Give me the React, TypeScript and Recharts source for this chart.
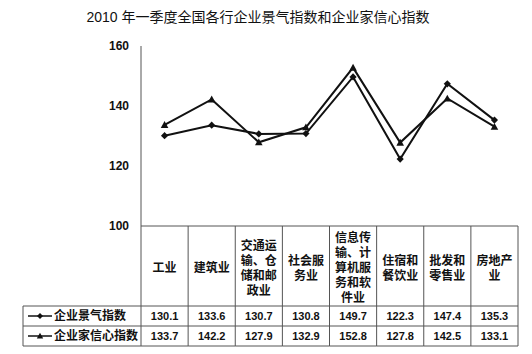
import React from "react";
import { LineChart, Line, XAxis, YAxis, Customized } from "recharts";

const categories = [
  "工业",
  "建筑业",
  "交通运输、仓储和邮政业",
  "社会服务业",
  "信息传输、计算机服务和软件业",
  "住宿和餐饮业",
  "批发和零售业",
  "房地产业",
];
const prosperity = [130.1, 133.6, 130.7, 130.8, 149.7, 122.3, 147.4, 135.3];
const confidence = [133.7, 142.2, 127.9, 132.9, 152.8, 127.8, 142.5, 133.1];
const yTicks = [100, 120, 140, 160];
const seriesNames = ["企业景气指数", "企业家信心指数"];
const title = "2010 年一季度全国各行企业景气指数和企业家信心指数";

const data = categories.map((name, i) => ({
  name,
  prosperity: prosperity[i],
  confidence: confidence[i],
}));

const W = 532;
const H = 354;
const M = { top: 46, right: 14, bottom: 8, left: 0 };
const Y_W = 141;
const X_H = 120;
const PLOT_W = W - M.left - M.right - Y_W;
const BAND = PLOT_W / categories.length;
const PLOT_BOTTOM = H - M.bottom - X_H;
const LABEL_H = 80;
const ROW_H = 20;
const TABLE_LEFT = 23;
const GRID = "#555";
const FONT = "'Liberation Sans', 'Noto Sans CJK SC', sans-serif";

const Diamond = ({ cx, cy, r = 3.6 }: any) => (
  <path
    d={`M${cx},${cy - r}L${cx + r},${cy}L${cx},${cy + r}L${cx - r},${cy}Z`}
    fill="#111"
  />
);
const Triangle = ({ cx, cy, r = 3.8 }: any) => (
  <path
    d={`M${cx},${cy - r}L${cx + r},${cy + r * 0.8}L${cx - r},${cy + r * 0.8}Z`}
    fill="#111"
  />
);

function CategoryTick(props: any) {
  const { x, y, payload } = props;
  const i = props.index ?? payload.index;
  const lines: string[] = String(payload.value).match(/.{1,3}/gu) || [];
  const mid = y + 42;
  const start = mid - ((lines.length - 1) * 15) / 2;
  const left = x - BAND / 2;
  const right = x + BAND / 2;
  const r1 = y + LABEL_H;
  const r2 = r1 + ROW_H;
  const r3 = r2 + ROW_H;
  return (
    <g fontFamily={FONT} fontWeight={700} fill="#111">
      {i === 0 && <line x1={left} x2={left} y1={y} y2={r3} stroke={GRID} />}
      <line x1={right} x2={right} y1={y} y2={r3} stroke={GRID} />
      <line x1={left} x2={right} y1={r1} y2={r1} stroke={GRID} />
      <line x1={left} x2={right} y1={r2} y2={r2} stroke={GRID} />
      <line x1={left} x2={right} y1={r3} y2={r3} stroke={GRID} />
      {lines.map((t, k) => (
        <text
          key={k}
          x={x}
          y={start + k * 15}
          textAnchor="middle"
          dominantBaseline="central"
          fontSize={12}
        >
          {t}
        </text>
      ))}
      <text x={x} y={r1 + ROW_H / 2} textAnchor="middle" dominantBaseline="central" fontSize={11}>
        {prosperity[i].toFixed(1)}
      </text>
      <text x={x} y={r2 + ROW_H / 2} textAnchor="middle" dominantBaseline="central" fontSize={11}>
        {confidence[i].toFixed(1)}
      </text>
    </g>
  );
}

function Decor() {
  const r1 = PLOT_BOTTOM + LABEL_H;
  const rows = [r1, r1 + ROW_H, r1 + 2 * ROW_H];
  const right = M.left + Y_W;
  return (
    <g fontFamily={FONT} fill="#111">
      <text x={258} y={17} textAnchor="middle" dominantBaseline="central" fontSize={14}>
        {title}
      </text>
      {rows.map((ry) => (
        <line key={ry} x1={TABLE_LEFT} x2={right} y1={ry} y2={ry} stroke={GRID} />
      ))}
      <line x1={TABLE_LEFT} x2={TABLE_LEFT} y1={rows[0]} y2={rows[2]} stroke={GRID} />
      {seriesNames.map((s, k) => {
        const cy = rows[k] + ROW_H / 2;
        return (
          <g key={s}>
            <line x1={28} x2={52} y1={cy} y2={cy} stroke="#111" strokeWidth={1.5} />
            {k === 0 ? <Diamond cx={40} cy={cy} r={3} /> : <Triangle cx={40} cy={cy} r={3.2} />}
            <text x={54} y={cy} dominantBaseline="central" fontSize={12} fontWeight={700}>
              {s}
            </text>
          </g>
        );
      })}
    </g>
  );
}

export default function App() {
  return (
    <div style={{ position: "absolute", left: 0, top: 0, width: W, height: H, background: "#fff" }}>
      <LineChart width={W} height={H} data={data} margin={M}>
        <XAxis
          dataKey="name"
          scale="band"
          interval={0}
          height={X_H}
          tickLine={false}
          tickSize={0}
          tickMargin={0}
          axisLine={{ stroke: GRID }}
          tick={<CategoryTick />}
        />
        <YAxis
          type="number"
          domain={[100, 160]}
          ticks={yTicks}
          width={Y_W}
          tickLine={false}
          tickSize={6}
          tickMargin={6}
          axisLine={{ stroke: GRID }}
          tick={{ fontSize: 12, fontWeight: 700, fill: "#111", fontFamily: FONT }}
        />
        <Line
          dataKey="prosperity"
          stroke="#111"
          strokeWidth={2}
          isAnimationActive={false}
          dot={(p: any) => <Diamond key={p.index} cx={p.cx} cy={p.cy} />}
        />
        <Line
          dataKey="confidence"
          stroke="#111"
          strokeWidth={2}
          isAnimationActive={false}
          dot={(p: any) => <Triangle key={p.index} cx={p.cx} cy={p.cy} />}
        />
        <Customized component={Decor} />
      </LineChart>
    </div>
  );
}
